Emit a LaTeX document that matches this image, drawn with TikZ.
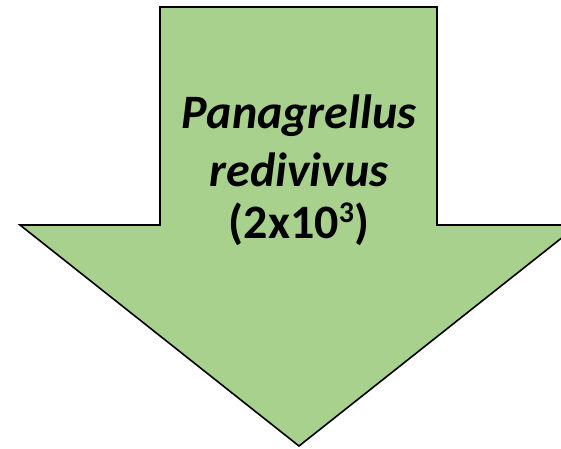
\documentclass[tikz,border=0pt]{standalone}
\usepackage{fontspec}
\setmainfont{Carlito}
\usetikzlibrary{positioning}

\definecolor{leafgreen}{HTML}{A9D18E}

\begin{document}
\begin{tikzpicture}[
    x=1pt, y=-1pt,
    bigarrow/.style={draw=black, line width=1.6pt, fill=leafgreen, line join=miter},
    label/.style={anchor=base, inner sep=0pt, font=\fontsize{48}{56}\selectfont\bfseries}
]
\useasboundingbox (0,0) rectangle (561,448);
% the down arrow
\draw[bigarrow] (160,7) -- (437,7) -- (437,225) -- (578,225) -- (299,446)
    -- (20,225) -- (160,225) -- cycle;
\node[label] (genus) at (299,128) {\itshape Panagrellus};
\node[label] (species) at (299,186) {\itshape redivivus};
\node[label] (count) at (299,238) {(2x10\raisebox{0.32em}{\fontsize{30}{34}\selectfont 3})};
\end{tikzpicture}
\end{document}
